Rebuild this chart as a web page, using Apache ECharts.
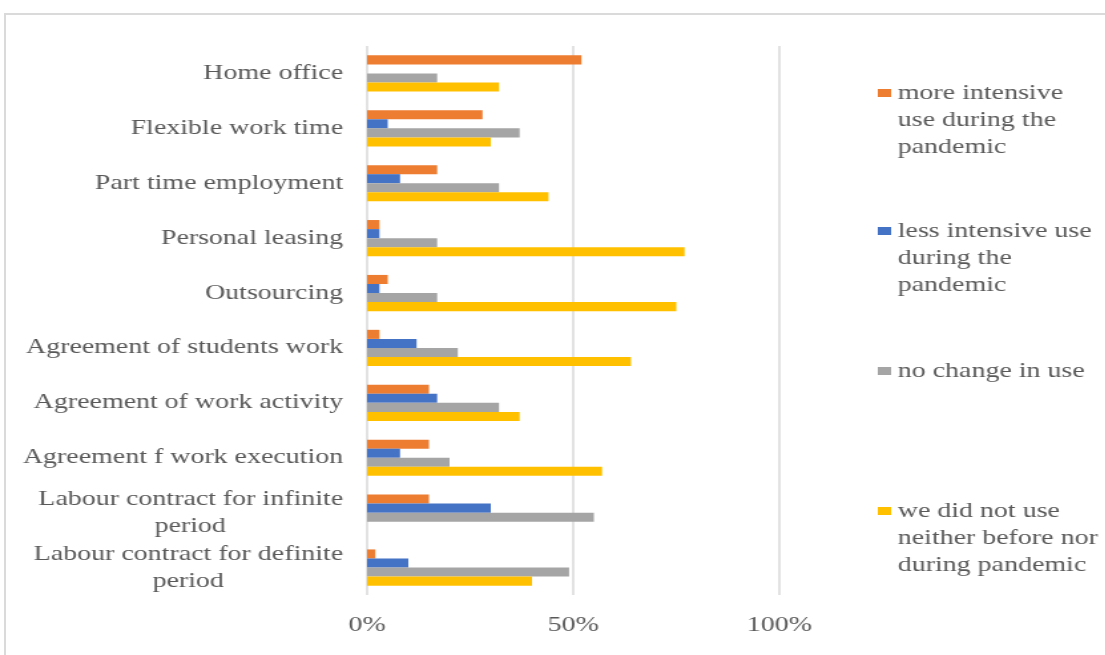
<!DOCTYPE html>
<html>
<head>
<meta charset="utf-8">
<script src="https://cdn.jsdelivr.net/npm/echarts@6/dist/echarts.min.js"></script>
<style>
  html, body { margin: 0; padding: 0; background: #fff; overflow: hidden; width: 1105px; height: 655px; }
  #frame { position: absolute; left: 4px; top: 13px; width: 1200px; height: 700px; border: 2px solid #dadada; box-sizing: border-box; }
  /* the chart is laid out narrow and widened horizontally */
  #chart { position: absolute; left: 0; top: 0; width: 831px; height: 655px; transform: scaleX(1.33); transform-origin: 0 0; }
</style>
</head>
<body>
<div id="frame"></div>
<div id="chart"></div>
<script>
// Categories, top to bottom
const categories = [
  'Home office',
  'Flexible work time',
  'Part time employment',
  'Personal leasing',
  'Outsourcing',
  'Agreement of students work',
  'Agreement of work activity',
  'Agreement f work execution',
  'Labour contract for infinite\nperiod',
  'Labour contract for definite\nperiod'
];

const seriesNames = [
  'more intensive use during the pandemic',
  'less intensive use during the pandemic',
  'no change in use',
  'we did not use neither before nor during pandemic'
];

const legendLines = [
  ['more intensive', 'use during the', 'pandemic'],
  ['less intensive use', 'during the', 'pandemic'],
  ['no change in use'],
  ['we did not use', 'neither before nor', 'during pandemic']
];

// Shares in percent
const moreIntensive = [52, 28, 17, 3, 5, 3, 15, 15, 15, 2];
const lessIntensive = [0, 5, 8, 3, 3, 12, 17, 8, 30, 10];
const noChange      = [17, 37, 32, 17, 17, 22, 32, 20, 55, 49];
const notUsed       = [32, 30, 44, 77, 75, 64, 37, 57, 0, 40];

const xTicks = [0, 50, 100];

const colors = ['#ED7D31', '#4472C4', '#A5A5A5', '#FFC000'];
const FONT = '"Liberation Serif", "Times New Roman", serif';
const TEXT = '#595959';
const FS = 21;
const LH = 27;

// Second lines of wrapped category labels are centred under the first line
const measureCtx = document.createElement('canvas').getContext('2d');
measureCtx.font = FS + 'px "Liberation Serif"';
const rich = {};
categories.forEach((c, i) => {
  const lines = c.split('\n');
  if (lines.length > 1) {
    rich['w' + i] = {
      width: Math.ceil(measureCtx.measureText(lines[0]).width),
      align: 'center',
      fontFamily: FONT, fontSize: FS, lineHeight: LH, color: TEXT
    };
  }
});

const values = [moreIntensive, lessIntensive, noChange, notUsed];
const legendCenters = [93, 231, 371, 511];

const chart = echarts.init(document.getElementById('chart'), null, { renderer: 'canvas' });

chart.setOption({
  animation: false,
  color: colors,
  grid: { left: 276, top: 46, width: 310, height: 549, containLabel: false },
  xAxis: {
    type: 'value',
    min: xTicks[0],
    max: xTicks[xTicks.length - 1],
    interval: xTicks[1] - xTicks[0],
    axisLine: { show: false },
    axisTick: { show: false },
    splitLine: { show: true, lineStyle: { color: '#d9d9d9', width: 1.5 } },
    axisLabel: {
      formatter: '{value}%',
      fontFamily: FONT, fontSize: FS, lineHeight: 21, color: TEXT, margin: 20
    }
  },
  yAxis: {
    type: 'category',
    inverse: true,
    data: categories,
    axisLine: { show: false },
    axisTick: { show: false },
    splitLine: { show: false },
    axisLabel: {
      fontFamily: FONT, fontSize: FS, lineHeight: LH, color: TEXT, margin: 18,
      formatter: (v, idx) => {
        const lines = v.split('\n');
        if (lines.length === 1) return v;
        return lines[0] + '\n{w' + idx + '|' + lines[1] + '}';
      },
      rich: rich
    }
  },
  // One legend per series so each entry sits at its own height; blank leading
  // lines keep the marker level with the first line of a wrapped name.
  legend: legendLines.map((lines, i) => ({
    data: [seriesNames[i]],
    orient: 'vertical',
    left: 660,
    top: legendCenters[i] - (2 * lines.length - 1) * LH / 2,
    padding: 0,
    itemWidth: 10,
    itemHeight: 8,
    icon: 'rect',
    selectedMode: false,
    formatter: () => '\n'.repeat(lines.length - 1) + lines.join('\n'),
    textStyle: { fontFamily: FONT, fontSize: FS, lineHeight: LH, color: TEXT }
  })),
  series: seriesNames.map((name, i) => ({
    name: name,
    type: 'bar',
    data: values[i],
    barGap: '0%',
    barCategoryGap: '34%',
    itemStyle: { color: colors[i] }
  }))
});
</script>
</body>
</html>
